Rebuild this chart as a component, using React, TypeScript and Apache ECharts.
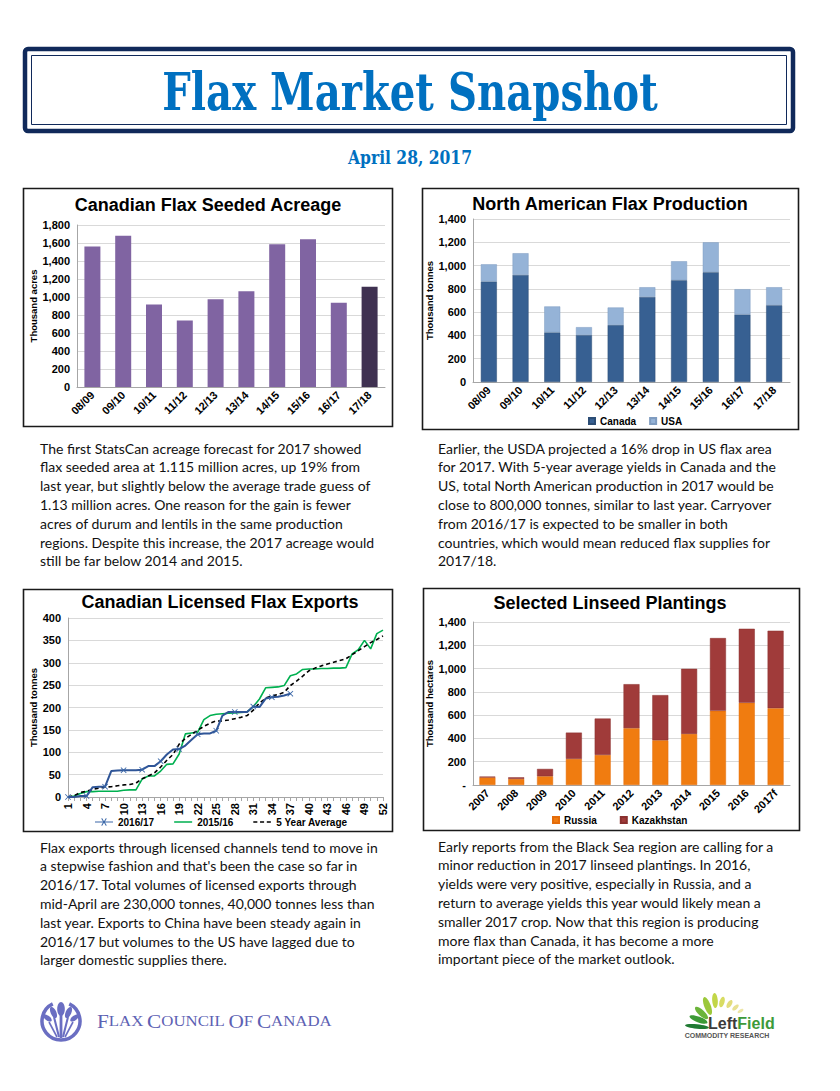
import React, { useEffect, useRef } from "react";
import * as echarts from "echarts";

// ---------------- data ----------------
const seasons = ["08/09", "09/10", "10/11", "11/12", "12/13", "13/14", "14/15", "15/16", "16/17", "17/18"];
const seededAcreage = [1560, 1681, 917, 739, 976, 1065, 1585, 1641, 935, 1115];

const canadaProduction = [863, 920, 426, 403, 489, 731, 874, 943, 580, 660];
const usaProduction = [148, 186, 223, 68, 151, 83, 163, 257, 217, 154];

const exportWeeks = [
  "1", "2", "3", "4", "5", "6", "7", "8", "9", "10", "11", "12", "13", "14", "15", "16", "17", "18",
  "19", "20", "21", "22", "23", "24", "25", "26", "27", "28", "29", "30", "31", "32", "33", "34", "35",
  "36", "37", "38", "39", "40", "41", "42", "43", "44", "45", "46", "47", "48", "49", "50", "51", "52",
];
const exports201617 = [
  0, 0, 2, 2, 22, 23, 23, 58, 59, 60, 60, 60, 61, 69, 69, 80, 95, 106, 107, 115, 128, 140, 142, 142,
  148, 182, 190, 190, 190, 190, 202, 201, 220, 223, 224, 227, 231,
];
const exports201516 = [
  0, 2, 8, 12, 12, 13, 13, 13, 13, 15, 16, 16, 40, 47, 47, 58, 73, 74, 96, 141, 143, 145, 173, 182,
  185, 186, 187, 188, 189, 190, 202, 219, 244, 245, 246, 249, 271, 275, 285, 286, 286, 287, 287, 288,
  288, 289, 320, 329, 350, 331, 365, 373,
];
const exportsAvg = [
  0, 3, 10, 13, 17, 20, 22, 23, 25, 27, 28, 31, 41, 47, 54, 67, 82, 95, 118, 131, 140, 149, 158, 165,
  170, 170, 172, 175, 178, 182, 194, 210, 221, 226, 229, 234, 249, 259, 270, 282, 288, 293, 297, 301,
  305, 309, 318, 327, 336, 345, 352, 360,
];

const plantingYears = ["2007", "2008", "2009", "2010", "2011", "2012", "2013", "2014", "2015", "2016", "2017f"];
const russiaPlantings = [65, 52, 75, 224, 258, 488, 384, 439, 637, 706, 660];
const kazakhPlantings = [7, 14, 63, 226, 313, 378, 388, 559, 625, 636, 665];

// ---------------- text ----------------
const para1 = [
  "The first StatsCan acreage forecast for 2017 showed",
  "flax seeded area at 1.115 million acres, up 19% from",
  "last year, but slightly below the average trade guess of",
  "1.13 million acres. One reason for the gain is fewer",
  "acres of durum and lentils in the same production",
  "regions. Despite this increase, the 2017 acreage would",
  "still be far below 2014 and 2015.",
];
const para2 = [
  "Earlier, the USDA projected a 16% drop in US flax area",
  "for 2017. With 5-year average yields in Canada and the",
  "US, total North American production in 2017 would be",
  "close to 800,000 tonnes, similar to last year. Carryover",
  "from 2016/17 is expected to be smaller in both",
  "countries, which would mean reduced flax supplies for",
  "2017/18.",
];
const para3 = [
  "Flax exports through licensed channels tend to move in",
  "a stepwise fashion and that's been the case so far in",
  "2016/17. Total volumes of licensed exports through",
  "mid-April are 230,000 tonnes, 40,000 tonnes less than",
  "last year. Exports to China have been steady again in",
  "2016/17 but volumes to the US have lagged due to",
  "larger domestic supplies there.",
];
const para4 = [
  "Early reports from the Black Sea region are calling for a",
  "minor reduction in 2017 linseed plantings. In 2016,",
  "yields were very positive, especially in Russia, and a",
  "return to average yields this year would likely mean a",
  "smaller 2017 crop. Now that this region is producing",
  "more flax than Canada, it has become a more",
  "important piece of the market outlook.",
];

const SANS = '"Liberation Sans", Arial, sans-serif';
const lbl = { color: "#000", fontFamily: SANS, fontWeight: "bold", fontSize: 11 };
const fmt = (v: number) => v.toLocaleString("en-US");

// legend icons (20 x 10 boxes; tiny corner squares keep the bounding box full size)
const CORNERS = "M0,0H0.01V0.01H0Z M19.99,9.99H20V10H19.99Z ";
const ICON_LINE_X =
  "path://" + CORNERS + "M0,4.3H20V5.7H0Z M7,0.8L7.8,0L10,4.2L12.2,0L13,0.8L10.8,5L13,9.2L12.2,10L10,5.8L7.8,10L7,9.2L9.2,5Z";
const ICON_LINE = "path://" + CORNERS + "M0,4.2H20V5.8H0Z";
const ICON_DASH = "path://" + CORNERS + "M0,4.2H4.5V5.8H0Z M7.5,4.2H12V5.8H7.5Z M15,4.2H19.5V5.8H15Z";

function catAxis(gridIndex: number, data: string[], extra: any = {}) {
  return {
    type: "category",
    gridIndex,
    data,
    axisLine: { lineStyle: { color: "#a6a6a6" } },
    axisTick: { lineStyle: { color: "#a6a6a6" } },
    axisLabel: { ...lbl, rotate: 45, interval: 0, margin: 6 },
    ...extra,
  };
}

function valAxis(gridIndex: number, max: number, interval: number, name: string, nameGap: number, formatter: any) {
  return {
    type: "value",
    gridIndex,
    min: 0,
    max,
    interval,
    name,
    nameLocation: "middle",
    nameGap,
    nameTextStyle: { color: "#000", fontFamily: SANS, fontWeight: "bold", fontSize: 9.5 },
    axisLine: { show: true, lineStyle: { color: "#a6a6a6" } },
    axisTick: { show: false },
    splitLine: { lineStyle: { color: "#d9d9d9" } },
    axisLabel: { ...lbl, margin: 7, formatter },
  };
}

function titleText(text: string, x: number, y: number) {
  return {
    type: "text",
    x,
    y,
    style: {
      text,
      font: `bold 18px ${SANS}`,
      fill: "#000",
      textAlign: "center",
      align: "center",
      textVerticalAlign: "middle",
      verticalAlign: "middle",
    },
  };
}

function paragraph(lines: string[], x: number, y0: number, step: number) {
  return lines.map((t, i) => ({
    type: "text",
    x,
    y: y0 + i * step,
    style: {
      text: t,
      font: '14px Lato, "Noto Sans", sans-serif',
      fill: "#111",
      textVerticalAlign: "middle",
      verticalAlign: "middle",
    },
  }));
}

function box(x: number, y: number, w: number, h: number) {
  return {
    type: "rect",
    shape: { x, y, width: w, height: h },
    style: { fill: "none", stroke: "#1a1a1a", lineWidth: 1.6 },
  };
}

const XSYM = "path://M0,1L1,0L5,4L9,0L10,1L6,5L10,9L9,10L5,6L1,10L0,9L4,5Z";

function leaf(cx: number, cy: number, rx: number, ry: number, rot: number, color: string) {
  return {
    type: "ellipse",
    x: cx,
    y: cy,
    rotation: rot,
    shape: { cx: 0, cy: 0, rx, ry },
    style: { fill: color },
  };
}

function buildOption() {
  const logoBlue = "#6a6ec2";
  const graphics: any[] = [
    // header
    {
      type: "rect",
      shape: { x: 25, y: 49, width: 768, height: 82, r: 3 },
      style: { fill: "#fff", stroke: "#10295a", lineWidth: 4.5 },
    },
    {
      type: "rect",
      shape: { x: 31.5, y: 55.5, width: 755, height: 69 },
      style: { fill: "none", stroke: "#10295a", lineWidth: 1 },
    },
    {
      type: "text",
      x: 410,
      y: 91,
      scaleX: 0.86,
      style: {
        text: "Flax Market Snapshot",
        font: 'bold 52px "DejaVu Serif Condensed", "DejaVu Serif", serif',
        fill: "#0070c0",
        textAlign: "center",
        align: "center",
        textVerticalAlign: "middle",
        verticalAlign: "middle",
      },
    },
    {
      type: "text",
      x: 410,
      y: 157,
      scaleX: 0.96,
      style: {
        text: "April 28, 2017",
        font: 'bold 18px "DejaVu Serif Condensed", "DejaVu Serif", serif',
        fill: "#0070c0",
        textAlign: "center",
        align: "center",
        textVerticalAlign: "middle",
        verticalAlign: "middle",
      },
    },
    // chart boxes
    box(23.5, 188.5, 369, 238),
    box(422.5, 188.5, 376, 241),
    box(23.5, 589.5, 369, 242),
    box(423.5, 588.5, 376, 242),
    // titles
    titleText("Canadian Flax Seeded Acreage", 208, 205),
    titleText("North American Flax Production", 610, 204),
    titleText("Canadian Licensed Flax Exports", 220, 602),
    titleText("Selected Linseed Plantings", 610, 603),
    // paragraphs
    ...paragraph(para1, 40, 448, 18.8),
    ...paragraph(para2, 438, 448, 18.8),
    ...paragraph(para3, 40, 847, 18.8),
    ...paragraph(para4, 438, 846, 18.8),
    // Flax Council logo
    {
      type: "arc",
      shape: { cx: 61, cy: 1021, r: 19, startAngle: -Math.PI / 2 + 0.45, endAngle: (3 * Math.PI) / 2 - 0.45, clockwise: true },
      style: { stroke: logoBlue, lineWidth: 3.5, fill: "none" },
    },
    leaf(61, 1009, 7, 3.8, Math.PI / 2, logoBlue),
    { type: "rect", shape: { x: 59.6, y: 1013, width: 2.8, height: 25 }, style: { fill: logoBlue } },
    leaf(53.5, 1012.5, 6, 2.8, 2.0, logoBlue),
    leaf(68.5, 1012.5, 6, 2.8, 1.14, logoBlue),
    leaf(47.5, 1018, 5, 2.4, 2.5, logoBlue),
    leaf(74.5, 1018, 5, 2.4, 0.64, logoBlue),
    { type: "line", shape: { x1: 54, y1: 1017, x2: 59, y2: 1037 }, style: { stroke: logoBlue, lineWidth: 2 } },
    { type: "line", shape: { x1: 68, y1: 1017, x2: 63, y2: 1037 }, style: { stroke: logoBlue, lineWidth: 2 } },
    { type: "line", shape: { x1: 49, y1: 1022, x2: 57, y2: 1037 }, style: { stroke: logoBlue, lineWidth: 1.6 } },
    { type: "line", shape: { x1: 73, y1: 1022, x2: 65, y2: 1037 }, style: { stroke: logoBlue, lineWidth: 1.6 } },
    {
      type: "text",
      x: 97,
      y: 1021,
      scaleX: 1.12,
      style: {
        text: "{b|F}{s|LAX} {b|C}{s|OUNCIL} {b|O}{s|F} {b|C}{s|ANADA}",
        fill: "#5d61b3",
        textVerticalAlign: "middle",
        verticalAlign: "middle",
        rich: {
          b: { fontFamily: '"Liberation Serif", serif', fontSize: 19, fill: "#5d61b3", color: "#5d61b3" },
          s: { fontFamily: '"Liberation Serif", serif', fontSize: 15, fill: "#5d61b3", color: "#5d61b3" },
        },
      },
    },
    // LeftField logo
    leaf(697, 1026.5, 12, 2.3, -0.1, "#1f7a32"),
    leaf(698.5, 1019.5, 9.5, 2.8, -0.35, "#3c9a36"),
    leaf(701.5, 1013, 8.5, 3, -0.75, "#6bb43a"),
    leaf(707.5, 1006, 9.5, 3.2, -1.2, "#9cc83a"),
    leaf(715, 1000.5, 7.5, 2.8, -1.5, "#c2d648"),
    leaf(722, 1002, 5.5, 2.5, -1.85, "#d8dc62"),
    leaf(729.5, 1004, 4.5, 2.2, -2.15, "#e2dc7c"),
    leaf(735.5, 1007.5, 4, 1.9, -2.4, "#e8e092"),
    leaf(740.5, 1011, 3.3, 1.6, -2.6, "#ede6a8"),
    {
      type: "text",
      x: 708,
      y: 1023,
      style: {
        text: "{l|Left}{f|Field}",
        textVerticalAlign: "middle",
        verticalAlign: "middle",
        rich: {
          l: { fontFamily: SANS, fontWeight: "bold", fontSize: 16, fill: "#3b3b3b", color: "#3b3b3b" },
          f: { fontFamily: SANS, fontWeight: "bold", fontSize: 16, fill: "#3d9a3a", color: "#3d9a3a" },
        },
      },
    },
    {
      type: "text",
      x: 727,
      y: 1035,
      style: {
        text: "COMMODITY RESEARCH",
        font: `bold 7px ${SANS}`,
        fill: "#555",
        textAlign: "center",
        align: "center",
        textVerticalAlign: "middle",
        verticalAlign: "middle",
      },
    },
  ];

  const legendText = { color: "#000", fontFamily: SANS, fontWeight: "bold", fontSize: 10 };

  return {
    animation: false,
    backgroundColor: "#fff",
    grid: [
      { left: 77, top: 225, width: 308, height: 162 },
      { left: 473, top: 219, width: 317, height: 163 },
      { left: 68, top: 618, width: 315, height: 179 },
      { left: 473, top: 622, width: 317, height: 163 },
    ],
    xAxis: [
      catAxis(0, seasons),
      catAxis(1, seasons),
      catAxis(2, exportWeeks, {
        boundaryGap: false,
        axisTick: { interval: 0, length: 4, lineStyle: { color: "#a6a6a6" } },
        axisLabel: { ...lbl, rotate: 90, interval: 2, margin: 6 },
      }),
      catAxis(3, plantingYears),
    ],
    yAxis: [
      valAxis(0, 1800, 200, "Thousand acres", 34, fmt),
      valAxis(1, 1400, 200, "Thousand tonnes", 32, fmt),
      valAxis(2, 400, 50, "Thousand tonnes", 29, fmt),
      valAxis(3, 1400, 200, "Thousand hectares", 30, (v: number) => (v === 0 ? "-" : fmt(v))),
    ],
    legend: [
      {
        data: ["Canada", "USA"],
        left: 588,
        top: 416,
        padding: 0,
        icon: "rect",
        itemWidth: 6,
        itemHeight: 6,
        itemGap: 13,
        textStyle: legendText,
      },
      {
        data: [
          { name: "2016/17", icon: ICON_LINE_X },
          { name: "2015/16", icon: ICON_LINE },
          { name: "5 Year Average", icon: ICON_DASH },
        ],
        left: 95,
        top: 817,
        padding: 0,
        symbolKeepAspect: false,
        itemWidth: 18,
        itemHeight: 8,
        itemGap: 20,
        textStyle: legendText,
      },
      {
        data: ["Russia", "Kazakhstan"],
        left: 552,
        top: 815,
        padding: 0,
        icon: "rect",
        itemWidth: 6,
        itemHeight: 6,
        itemGap: 23,
        textStyle: legendText,
      },
    ],
    graphic: { elements: graphics },
    series: [
      {
        type: "bar",
        name: "Seeded acreage",
        xAxisIndex: 0,
        yAxisIndex: 0,
        barWidth: 16,
        data: seededAcreage.map((v, i) => ({
          value: v,
          itemStyle: { color: i === seededAcreage.length - 1 ? "#3f3151" : "#8064a2" },
        })),
      },
      {
        type: "bar",
        name: "Canada",
        xAxisIndex: 1,
        yAxisIndex: 1,
        stack: "prod",
        barWidth: 16,
        itemStyle: { color: "#376092", borderColor: "#2c4d75", borderWidth: 0.5 },
        data: canadaProduction,
      },
      {
        type: "bar",
        name: "USA",
        xAxisIndex: 1,
        yAxisIndex: 1,
        stack: "prod",
        barWidth: 16,
        itemStyle: { color: "#95b3d7", borderColor: "#7f9cc0", borderWidth: 0.5 },
        data: usaProduction,
      },
      {
        type: "line",
        name: "2015/16",
        xAxisIndex: 2,
        yAxisIndex: 2,
        symbol: "none",
        lineStyle: { color: "#00b050", width: 1.6 },
        itemStyle: { color: "#00b050" },
        data: exports201516,
      },
      {
        type: "line",
        name: "5 Year Average",
        xAxisIndex: 2,
        yAxisIndex: 2,
        symbol: "none",
        lineStyle: { color: "#000", width: 1.6, type: [4, 3] },
        itemStyle: { color: "#000" },
        data: exportsAvg,
      },
      {
        type: "line",
        name: "2016/17",
        xAxisIndex: 2,
        yAxisIndex: 2,
        symbol: XSYM,
        symbolSize: 6,
        showSymbol: true,
        lineStyle: { color: "#2f5597", width: 2 },
        itemStyle: { color: "#3a67a8" },
        data: exports201617,
      },
      {
        type: "bar",
        name: "Russia",
        xAxisIndex: 3,
        yAxisIndex: 3,
        stack: "plant",
        barWidth: 16,
        itemStyle: { color: "#f07c10", borderColor: "#e46c0a", borderWidth: 0.5 },
        data: russiaPlantings,
      },
      {
        type: "bar",
        name: "Kazakhstan",
        xAxisIndex: 3,
        yAxisIndex: 3,
        stack: "plant",
        barWidth: 16,
        itemStyle: { color: "#a03b3a", borderColor: "#8a302f", borderWidth: 0.5 },
        data: kazakhPlantings,
      },
    ],
  };
}

export default function App() {
  const ref = useRef<HTMLDivElement>(null);
  useEffect(() => {
    if (!ref.current) return;
    const chart = echarts.init(ref.current, null, { renderer: "svg" });
    chart.setOption(buildOption() as any);
    return () => chart.dispose();
  }, []);
  return (
    <div
      ref={ref}
      style={{ position: "absolute", left: 0, top: 0, width: 840, height: 1091, background: "#fff" }}
    />
  );
}
